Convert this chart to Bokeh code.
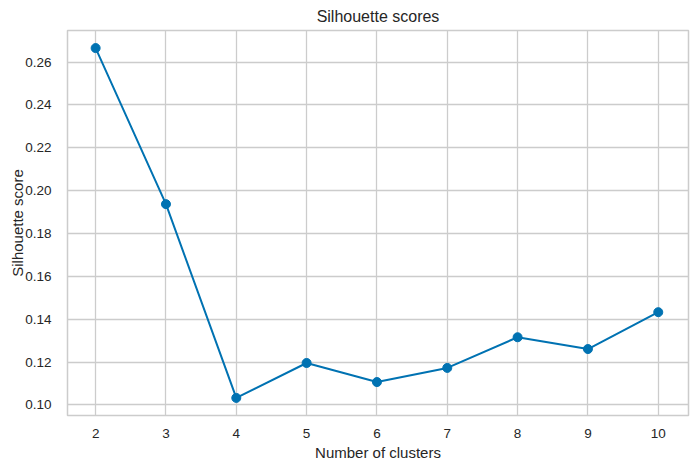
from bokeh.plotting import figure
from bokeh.models import Range1d, FixedTicker, CustomJSTickFormatter
from bokeh.embed import file_html
from bokeh.resources import INLINE

# Silhouette score for each cluster count
n_clusters = [2, 3, 4, 5, 6, 7, 8, 9, 10]
scores = [0.2665, 0.1937, 0.1033, 0.1196, 0.1107, 0.1173, 0.1316, 0.1261, 0.1433]
y_ticks = [0.10, 0.12, 0.14, 0.16, 0.18, 0.20, 0.22, 0.24, 0.26]

FONT = "Liberation Sans"
TEXT = "#262626"
GRID = "#cccccc"
LINE = "#0072B2"

p = figure(width=696, height=468, output_backend="svg", toolbar_location=None,
           x_range=Range1d(1.6, 10.43), y_range=Range1d(0.0951, 0.2747),
           min_border_left=67, min_border_right=8, min_border_top=30, min_border_bottom=53)

p.title.text = "Silhouette scores"
p.title.align = "center"
p.title.vertical_align = "top"
p.title.text_font = FONT
p.title.text_font_size = "16px"
p.title.text_font_style = "normal"
p.title.text_color = TEXT
p.title.standoff = 8

p.outline_line_color = GRID
p.outline_line_width = 1.5
p.background_fill_color = "white"
p.border_fill_color = "white"

p.xgrid.grid_line_color = GRID
p.ygrid.grid_line_color = GRID
p.xgrid.grid_line_width = 1.3
p.ygrid.grid_line_width = 1.3

p.xaxis.ticker = FixedTicker(ticks=n_clusters)
p.yaxis.ticker = FixedTicker(ticks=y_ticks)
p.yaxis.formatter = CustomJSTickFormatter(code="return tick.toFixed(2);")

for ax in (p.xaxis[0], p.yaxis[0]):
    ax.axis_line_color = None
    ax.major_tick_line_color = None
    ax.minor_tick_line_color = None
    ax.major_label_text_font = FONT
    ax.major_label_text_font_size = "13.5px"
    ax.major_label_text_color = TEXT
    ax.axis_label_text_font = FONT
    ax.axis_label_text_font_size = "15px"
    ax.axis_label_text_font_style = "normal"
    ax.axis_label_text_color = TEXT

p.xaxis.major_label_standoff = 7
p.yaxis.major_label_standoff = 10
p.xaxis.axis_label = "Number of clusters"
p.yaxis.axis_label = "Silhouette score"
p.xaxis.axis_label_standoff = 3
p.yaxis.axis_label_standoff = -4

p.line(n_clusters, scores, line_color=LINE, line_width=2)
p.scatter(n_clusters, scores, size=9, fill_color=LINE, line_color=LINE)

open("out.html", "w").write(file_html(p, INLINE))
